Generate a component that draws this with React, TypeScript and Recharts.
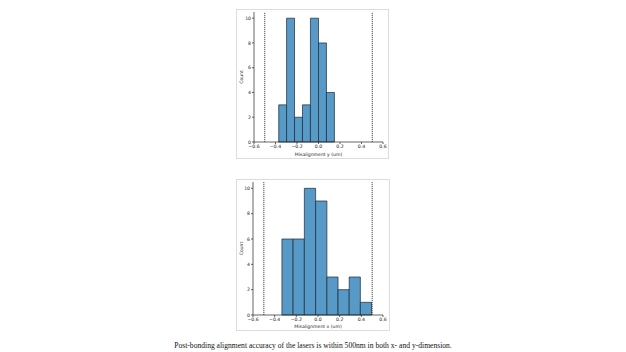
import { ComposedChart, Label, ReferenceArea, ReferenceLine, XAxis, YAxis } from 'recharts';

// bin edges + counts
const yEdges = [-0.37, -0.297, -0.223, -0.149, -0.075, 0.0, 0.074, 0.148];
const yCounts = [3, 10, 2, 3, 10, 8, 4];

const xEdges = [-0.333, -0.23, -0.126, -0.022, 0.082, 0.185, 0.288, 0.391, 0.494];
const xCounts = [6, 6, 10, 9, 3, 2, 3, 1];

const xTicks = [-0.6, -0.4, -0.2, 0.0, 0.2, 0.4, 0.6];
const yTicks = [0, 2, 4, 6, 8, 10];
const limits = [-0.5, 0.5];

const caption = 'Post-bonding alignment accuracy of the lasers is within 500nm in both x- and y-dimension.';

const FONT = 'DejaVu Sans, sans-serif';
const AXIS = '#222';
const BAR = '#5799c7';
const FS = 4.6;

function fmtTick(v: number): string {
  return v.toFixed(1).replace('-', '\u2212');
}

type HistProps = {
  edges: number[];
  counts: number[];
  xLabel: string;
  width: number;
  height: number;
  margin: { top: number; right: number; bottom: number; left: number };
  yAxisWidth: number;
  xAxisHeight: number;
};

function Histogram({ edges, counts, xLabel, width, height, margin, yAxisWidth, xAxisHeight }: HistProps) {
  const data = counts.map((c, i) => ({ mid: (edges[i] + edges[i + 1]) / 2, count: c }));
  const tickStyle = { fontSize: FS, fill: '#222', fontFamily: FONT };
  return (
    <ComposedChart width={width} height={height} data={data} margin={margin}>
      <XAxis
        type="number"
        dataKey="mid"
        domain={[-0.6, 0.6]}
        ticks={xTicks}
        tickFormatter={fmtTick}
        tick={tickStyle}
        tickSize={2}
        tickMargin={0.5}
        stroke={AXIS}
        strokeWidth={0.7}
        height={xAxisHeight}
        allowDataOverflow
      >
        <Label value={xLabel} position="insideBottom" offset={2} style={{ fontSize: FS, fill: '#222', fontFamily: FONT }} />
      </XAxis>
      <YAxis
        type="number"
        domain={[0, 10.5]}
        ticks={yTicks}
        tick={tickStyle}
        tickSize={2}
        tickMargin={1}
        stroke={AXIS}
        strokeWidth={0.7}
        width={yAxisWidth}
        allowDataOverflow
      >
        <Label value="Count" angle={-90} position="insideLeft" offset={4} style={{ fontSize: FS, fill: '#222', fontFamily: FONT, textAnchor: 'middle' }} />
      </YAxis>
      {counts.map((c, i) => (
        <ReferenceArea
          key={i}
          x1={edges[i]}
          x2={edges[i + 1]}
          y1={0}
          y2={c}
          fill={BAR}
          fillOpacity={1}
          stroke="#1e2a33"
          strokeWidth={0.7}
          ifOverflow="visible"
        />
      ))}
      {limits.map((v) => (
        <ReferenceLine key={v} x={v} stroke="#222" strokeWidth={0.8} strokeDasharray="1.2 0.8" />
      ))}
    </ComposedChart>
  );
}

export default function App() {
  return (
    <div style={{ position: 'absolute', left: 0, top: 0, width: 626, height: 352, background: '#fff' }}>
      <div style={{ position: 'absolute', left: 236, top: 9, width: 151, height: 148, border: '1px solid #dcdcdc' }}>
        <Histogram
          edges={yEdges}
          counts={yCounts}
          xLabel="Misalignment y (um)"
          width={151}
          height={148}
          margin={{ top: 2, right: 5, bottom: 0, left: 0 }}
          yAxisWidth={17}
          xAxisHeight={16}
        />
      </div>
      <div style={{ position: 'absolute', left: 236, top: 179, width: 152, height: 150, border: '1px solid #dcdcdc' }}>
        <Histogram
          edges={xEdges}
          counts={xCounts}
          xLabel="Misalignment x (um)"
          width={152}
          height={150}
          margin={{ top: 2, right: 6, bottom: 0, left: 0 }}
          yAxisWidth={16}
          xAxisHeight={15}
        />
      </div>
      <div
        style={{
          position: 'absolute',
          left: 0,
          top: 341,
          width: 626,
          textAlign: 'center',
          fontFamily: '"Liberation Serif", "Times New Roman", serif',
          fontSize: 7.6,
          color: '#111',
          lineHeight: '10px',
        }}
      >
        {caption}
      </div>
    </div>
  );
}
